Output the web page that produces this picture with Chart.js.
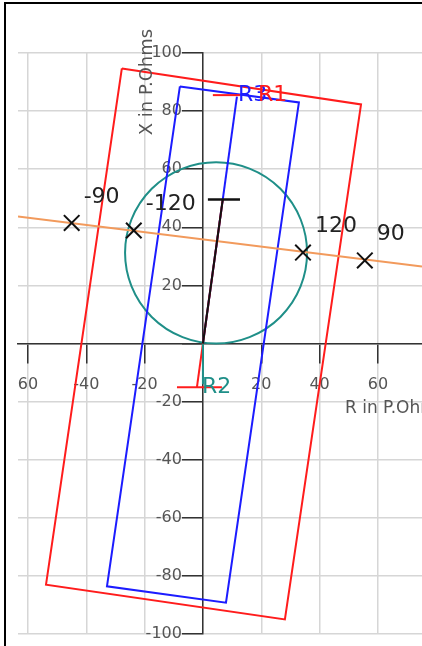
<!DOCTYPE html>
<html lang="en">
<head>
<meta charset="UTF-8">
<title>Impedance plane</title>
<script src="https://cdn.jsdelivr.net/npm/chart.js"></script>
<style>
    body { margin: 0; background: #fff; overflow: hidden; }
    .wrap { position: relative; width: 422px; height: 646px; }
    .frame {
        position: absolute; left: 4px; top: 2px; right: 0; bottom: 0;
        border-left: 2px solid #000; border-top: 2px solid #000;
        pointer-events: none;
    }
</style>
</head>
<body>
<div class="wrap">
    <canvas id="zoneChart"></canvas>
    <div class="frame"></div>
</div>
<script>
    // corners of the outer (red) and inner (blue) zones, R and X in primary ohms
    const redZoneR = [-27.8, 54.2, 28.1, -53.8, -27.8];
    const redZoneX = [94.7, 82.3, -95.0, -83.0, 94.7];
    const blueZoneR = [-7.9, 32.9, 7.9, -32.9, -7.9];
    const blueZoneX = [88.5, 83.0, -89.2, -83.6, 88.5];

    // orange line and the crosses on it
    const loadLineR = [-63.4, 75.1];
    const loadLineX = [43.7, 26.5];
    const angleLabels = ['-90', '-120', '120', '90'];
    const angleR = [-45.0, -23.7, 34.3, 55.5];
    const angleX = [41.5, 38.9, 31.3, 28.6];

    // mho circle
    const mhoCenter = [4.5, 31.2];
    const mhoRadius = 31.2;

    // reach lines and markers
    const r3LineR = [0, 11.65], r3LineX = [0, 85.0];
    const redLineR = [-2.07, 6.8], redLineX = [-15.1, 49.6];
    const blackLineR = [0, 6.8], blackLineX = [0, 49.6];
    const blackDashR = [1.7, 12.7], blackDashX = [49.6, 49.6];
    const r1DashR = [3.4, 12.7], r1DashX = [85.5, 85.5];
    const r2DashR = [-8.9, 6.5], r2DashX = [-15.1, -15.1];
    const r2StemR = [0, 0], r2StemX = [0, -14.0];

    const zoneLabels = ['R3', 'R1', 'R2'];
    const zoneLabelR = [12.0, 18.9, -0.3];
    const zoneLabelX = [85.4, 85.4, -15.1];

    // tick labels
    const xTickValues = [-60, -40, -20, 0, 20, 40, 60];
    const xTickLabels = ['60', '-40', '-20', '', '20', '40', '60'];
    const yTickValues = [100, 80, 60, 40, 20, 0, -20, -40, -60, -80, -100];
    const yTickLabels = ['100', '80', '60', '40', '20', '', '-20', '-40', '-60', '-80', '-100'];

    const RED = '#ff1c1c', BLUE = '#1c1cff', TEAL = '#1f8f88', ORANGE = '#f29a5c';

    function pts(rs, xs) {
        return rs.map((r, i) => ({ x: r, y: xs[i] }));
    }

    function lineSet(rs, xs, color, width) {
        return {
            data: pts(rs, xs),
            showLine: true,
            borderColor: color,
            backgroundColor: color,
            borderWidth: width || 2,
            pointRadius: 0,
            fill: false,
            tension: 0
        };
    }

    Chart.defaults.font.family = '"DejaVu Sans", sans-serif';

    // y tick labels, circle, labels and axis titles drawn through the scales
    const overlay = {
        id: 'overlay',
        beforeDatasetsDraw(chart) {
            const ctx = chart.ctx, sx = chart.scales.x, sy = chart.scales.y;
            const x0 = sx.getPixelForValue(0);
            ctx.save();
            // y axis labels sit left of the tick marks
            ctx.font = '16px "DejaVu Sans"';
            ctx.fillStyle = '#555';
            ctx.textAlign = 'right';
            ctx.textBaseline = 'middle';
            yTickValues.forEach((v, i) => {
                ctx.fillText(yTickLabels[i], x0 - 21, sy.getPixelForValue(v));
            });

            const cx = sx.getPixelForValue(mhoCenter[0]);
            const cy = sy.getPixelForValue(mhoCenter[1]);
            const rx = Math.abs(sx.getPixelForValue(mhoCenter[0] + mhoRadius) - cx);
            const ry = Math.abs(sy.getPixelForValue(mhoCenter[1] + mhoRadius) - cy);
            ctx.strokeStyle = TEAL;
            ctx.lineWidth = 2;
            ctx.beginPath();
            ctx.ellipse(cx, cy, rx, ry, 0, 0, Math.PI * 2);
            ctx.stroke();
            ctx.restore();
        },
        afterDatasetsDraw(chart) {
            const ctx = chart.ctx, sx = chart.scales.x, sy = chart.scales.y;
            ctx.save();
            ctx.textAlign = 'left';
            ctx.textBaseline = 'middle';

            ctx.font = '22px "DejaVu Sans"';
            ctx.fillStyle = '#222';
            angleLabels.forEach((t, i) => {
                ctx.fillText(t, sx.getPixelForValue(angleR[i]) + 12, sy.getPixelForValue(angleX[i]) - 26);
            });

            const zoneColors = [BLUE, RED, TEAL];
            zoneLabels.forEach((t, i) => {
                ctx.fillStyle = zoneColors[i];
                ctx.fillText(t, sx.getPixelForValue(zoneLabelR[i]), sy.getPixelForValue(zoneLabelX[i]));
            });

            ctx.font = '17px "DejaVu Sans"';
            ctx.fillStyle = '#555';
            ctx.fillText('R in P.Ohms', sx.getPixelForValue(48.7), sy.getPixelForValue(-22.4));

            ctx.font = '18px "DejaVu Sans"';
            ctx.translate(sx.getPixelForValue(-18.9), sy.getPixelForValue(90.0));
            ctx.rotate(-Math.PI / 2);
            ctx.textAlign = 'center';
            ctx.fillText('X in P.Ohms', 0, 0);
            ctx.restore();
        }
    };

    const crosses = {
        data: pts(angleR, angleX),
        showLine: false,
        pointStyle: 'crossRot',
        pointRadius: 11,
        borderColor: '#111',
        borderWidth: 2
    };

    // first dataset ends up on top
    const datasets = [
        crosses,
        lineSet(blackDashR, blackDashX, '#111', 2.5),
        lineSet(blackLineR, blackLineX, '#111', 2),
        lineSet(r2StemR, r2StemX, TEAL, 2),
        lineSet(r2DashR, r2DashX, RED, 2),
        lineSet(r1DashR, r1DashX, RED, 2),
        lineSet(redLineR, redLineX, RED, 2),
        lineSet(r3LineR, r3LineX, BLUE, 2),
        lineSet(loadLineR, loadLineX, ORANGE, 2),
        lineSet(blueZoneR, blueZoneX, BLUE, 2),
        lineSet(redZoneR, redZoneX, RED, 2)
    ];

    const ctx = document.getElementById('zoneChart').getContext('2d');
    new Chart(ctx, {
        type: 'scatter',
        data: { datasets: datasets },
        plugins: [overlay],
        options: {
            responsive: true,
            maintainAspectRatio: false,
            animation: false,
            layout: { autoPadding: false, padding: { left: 18, top: 53, right: 0, bottom: 12 } },
            plugins: { legend: { display: false }, tooltip: { enabled: false } },
            scales: {
                x: {
                    type: 'linear',
                    position: { y: 0 },
                    min: -63.4,
                    max: 75.1,
                    afterFit: s => { s.paddingLeft = 0; s.paddingRight = 0; },
                    grid: { color: '#d6d6d6', lineWidth: 1.5, tickColor: '#333', tickWidth: 1.5, tickLength: 19 },
                    border: { color: '#333', width: 1.5 },
                    ticks: {
                        stepSize: 20,
                        includeBounds: false,
                        autoSkip: false,
                        maxRotation: 0,
                        padding: 13,
                        color: '#555',
                        font: { size: 16 },
                        callback: v => {
                            const i = xTickValues.indexOf(v);
                            return i < 0 ? '' : xTickLabels[i];
                        }
                    }
                },
                y: {
                    type: 'linear',
                    position: { x: 0 },
                    min: -100,
                    max: 100,
                    afterFit: s => { s.paddingTop = 0; s.paddingBottom = 0; },
                    grid: { color: '#d6d6d6', lineWidth: 1.5, tickColor: '#333', tickWidth: 1.5, tickLength: 20 },
                    border: { color: '#333', width: 1.5 },
                    ticks: { stepSize: 20, autoSkip: false, display: false }
                }
            }
        }
    });
</script>
</body>
</html>
